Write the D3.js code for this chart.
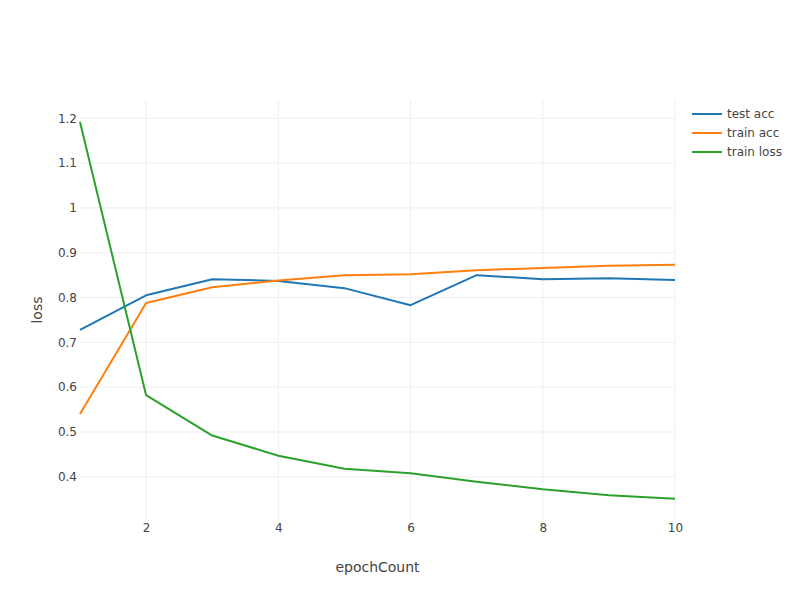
<!DOCTYPE html>
<html>
<head>
<meta charset="utf-8">
<script src="https://cdn.jsdelivr.net/npm/d3@7"></script>
<style>
  body { margin: 0; background: #fff; }
  text { font-family: "DejaVu Sans", Verdana, sans-serif; fill: #444; }
</style>
</head>
<body>
<div id="chart"></div>
<script>
// Data
const epochs = [1, 2, 3, 4, 5, 6, 7, 8, 9, 10];
const testAcc = [0.728, 0.805, 0.841, 0.837, 0.821, 0.783, 0.850, 0.841, 0.843, 0.839];
const trainAcc = [0.540, 0.788, 0.823, 0.838, 0.850, 0.852, 0.861, 0.866, 0.871, 0.873];
const trainLoss = [1.192, 0.582, 0.492, 0.447, 0.418, 0.408, 0.389, 0.372, 0.359, 0.351];
const xTicks = [2, 4, 6, 8, 10];
const yTicks = [0.4, 0.5, 0.6, 0.7, 0.8, 0.9, 1.0, 1.1, 1.2];

const seriesNames = ["test acc", "train acc", "train loss"];
const seriesValues = [testAcc, trainAcc, trainLoss];
const colors = ["#1f77b4", "#ff7f0e", "#2ca02c"];

// Chart dimensions
const margin = {top: 100, right: 125, bottom: 80, left: 80};
const width = 800 - margin.left - margin.right;
const height = 600 - margin.top - margin.bottom;

const svg = d3.select("#chart")
    .append("svg")
    .attr("width", 800)
    .attr("height", 600);

const g = svg.append("g")
    .attr("transform", `translate(${margin.left},${margin.top})`);

// Scales
const xScale = d3.scaleLinear()
    .domain([1, 10])
    .range([0, width]);

const yScale = d3.scaleLinear()
    .domain([0.3035, 1.2409])
    .range([height, 0]);

// Grid lines
g.append("g")
    .selectAll("line")
    .data(yTicks)
    .enter()
    .append("line")
    .attr("x1", 0)
    .attr("x2", width)
    .attr("y1", d => yScale(d))
    .attr("y2", d => yScale(d))
    .attr("stroke", "#eee")
    .attr("stroke-width", 1);

g.append("g")
    .selectAll("line")
    .data(xTicks)
    .enter()
    .append("line")
    .attr("x1", d => xScale(d))
    .attr("x2", d => xScale(d))
    .attr("y1", 0)
    .attr("y2", height)
    .attr("stroke", "#eee")
    .attr("stroke-width", 1);

// Axes (labels only)
const xAxis = d3.axisBottom(xScale)
    .tickValues(xTicks)
    .tickSize(0)
    .tickPadding(3);

const yAxis = d3.axisLeft(yScale)
    .tickValues(yTicks)
    .tickFormat(d => String(+d.toFixed(1)))
    .tickSize(0)
    .tickPadding(3);

const gx = g.append("g")
    .attr("transform", `translate(0,${height})`)
    .call(xAxis);

const gy = g.append("g")
    .call(yAxis);

[gx, gy].forEach(a => {
    a.select(".domain").remove();
    a.selectAll("text")
        .style("font-size", "12px")
        .style("fill", "#444")
        .style("font-family", '"DejaVu Sans", Verdana, sans-serif');
});
gx.selectAll("text").attr("dy", "0.71em").attr("y", 3);

// Lines
const line = d3.line()
    .x((d, i) => xScale(epochs[i]))
    .y(d => yScale(d));

seriesValues.forEach((vals, k) => {
    g.append("path")
        .datum(vals)
        .attr("fill", "none")
        .attr("stroke", colors[k])
        .attr("stroke-width", 2)
        .attr("stroke-linejoin", "round")
        .attr("d", line);
});

// Axis titles
svg.append("text")
    .attr("x", margin.left + width / 2)
    .attr("y", 572)
    .attr("text-anchor", "middle")
    .style("font-size", "14px")
    .text("epochCount");

svg.append("text")
    .attr("transform", `translate(42,${margin.top + height / 2}) rotate(-90)`)
    .attr("text-anchor", "middle")
    .style("font-size", "14px")
    .text("loss");

// Legend
const legend = svg.append("g")
    .attr("transform", "translate(692,114)");

seriesNames.forEach((name, k) => {
    const row = legend.append("g")
        .attr("transform", `translate(0,${k * 19})`);
    row.append("line")
        .attr("x1", 0)
        .attr("x2", 30)
        .attr("y1", 0)
        .attr("y2", 0)
        .attr("stroke", colors[k])
        .attr("stroke-width", 2);
    row.append("text")
        .attr("x", 35)
        .attr("y", 0)
        .attr("dy", "0.35em")
        .style("font-size", "12px")
        .text(name);
});
</script>
</body>
</html>
